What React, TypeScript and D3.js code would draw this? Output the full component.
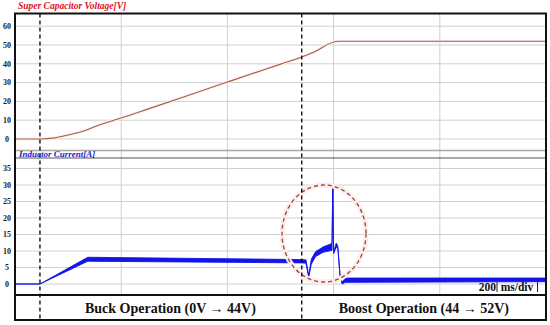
import * as d3 from "d3";

// time base: 200 ms/div, 5 divisions
const timeTicks = [0, 200, 400, 600, 800, 1000];
const voltTicks = [0, 10, 20, 30, 40, 50, 60];
const currTicks = [0, 5, 10, 15, 20, 25, 30, 35];

// super capacitor voltage [V]
const voltageTime = [0, 47, 75, 98, 132, 160, 198, 254, 348, 397, 443, 499, 540, 561, 608, 1000];
const voltageValue = [0, 0, 0.6, 2, 4.5, 7.6, 11, 16.3, 25.3, 30, 34.4, 39.7, 43.6, 46, 52, 52];

// inductor current [A], ripple band upper / lower envelope
const currentTime = [0, 47, 137, 540, 548, 553, 558, 566, 580, 597, 598.5, 600, 605, 608, 612, 616, 622, 1000];
const currentUpper = [0, 0, 8.1, 7.4, 7.3, 2.6, 7.5, 9.8, 11.2, 12.3, 30, 9.8, 12.4, 11.5, 3, 0.5, 1.8, 1.8];
const currentLower = [0, 0, 6.9, 6.4, 6.3, 2.0, 6.0, 8.3, 9.6, 10.2, 30, 9.2, 11.2, 10.8, 2.5, 0, 0.5, 0.7];

const modeBoundaries = [47, 540];
const modeLabels = ["Buck Operation (0V \u2192 44V)", "Boost Operation (44 \u2192 52V)"];

const W = 550;
const H = 325;
const frame = { left: 15, right: 546, top: 13.5, bottom: 320 };
const plotBottom = 295;
const serif = "'Liberation Serif', 'Times New Roman', serif";

export default function App() {
  const x = d3.scaleLinear().domain([0, 1000]).range([frame.left, frame.right]);
  const yV = d3.scaleLinear().domain([0, 60]).range([139, 26.2]);
  const yI = d3.scaleLinear().domain([0, 35]).range([284, 168.5]);

  const voltPts: [number, number][] = voltageTime.map((t, i) => [t, voltageValue[i]]);
  const voltLine = d3.line<[number, number]>()
    .x(d => x(d[0]))
    .y(d => yV(d[1]))
    .curve(d3.curveMonotoneX);

  const idx = currentTime.map((_, i) => i);
  const band = d3.area<number>()
    .x(i => x(currentTime[i]))
    .y0(i => yI(currentLower[i]))
    .y1(i => yI(currentUpper[i]));
  const upperLine = d3.line<number>().x(i => x(currentTime[i])).y(i => yI(currentUpper[i]));
  const lowerLine = d3.line<number>().x(i => x(currentTime[i])).y(i => yI(currentLower[i]));

  const blue = "#1414e8";
  const grid = "#cfcfcf";

  const midBuck = (frame.left + x(modeBoundaries[1])) / 2 + 12;
  const midBoost = (x(modeBoundaries[1]) + frame.right) / 2;

  return (
    <svg width={W} height={H} style={{ position: "absolute", left: 0, top: 0, background: "#fff" }}>
      <rect x={0} y={0} width={W} height={H} fill="#fff" />

      {/* titles */}
      <text x={18} y={9} fill="#e01028" fontFamily={serif} fontSize={9.5} fontWeight="bold" fontStyle="italic">
        Super Capacitor Voltage[V]
      </text>

      {/* vertical grid */}
      {timeTicks.slice(1, -1).map(t => (
        <line key={"vg" + t} x1={x(t)} x2={x(t)} y1={frame.top} y2={plotBottom} stroke={grid} strokeWidth={1} />
      ))}

      {/* voltage grid and labels */}
      {voltTicks.map(v => (
        <g key={"v" + v}>
          <line x1={frame.left} x2={frame.right} y1={yV(v)} y2={yV(v)} stroke={grid} strokeWidth={1} />
          <text x={7} y={yV(v) + 2.8} textAnchor="middle" fontFamily={serif} fontSize={8} fontWeight="bold" fill="#222">
            {v}
          </text>
        </g>
      ))}

      {/* current grid and labels */}
      {currTicks.map(v => (
        <g key={"c" + v}>
          <line x1={frame.left} x2={frame.right} y1={yI(v)} y2={yI(v)} stroke={grid} strokeWidth={1} />
          <text x={7} y={yI(v) + 2.8} textAnchor="middle" fontFamily={serif} fontSize={8} fontWeight="bold" fill="#222">
            {v}
          </text>
        </g>
      ))}

      {/* panel divider */}
      <line x1={frame.left} x2={frame.right} y1={150.5} y2={150.5} stroke="#a8a8a8" strokeWidth={1.6} />
      <line x1={frame.left} x2={frame.right} y1={158} y2={158} stroke="#555" strokeWidth={1.2} />
      <text x={19} y={156.8} fill="#2222c8" fontFamily={serif} fontSize={9} fontWeight="bold" fontStyle="italic">
        Inductor Current[A]
      </text>

      {/* voltage trace */}
      <path d={voltLine(voltPts) ?? ""} fill="none" stroke="#fdeef3" strokeWidth={3} />
      <path d={voltLine(voltPts) ?? ""} fill="none" stroke="#a5613c" strokeWidth={1.1} />

      {/* current trace */}
      <path d={band(idx) ?? ""} fill={blue} stroke="none" />
      <path d={upperLine(idx) ?? ""} fill="none" stroke={blue} strokeWidth={0.9} />
      <path d={lowerLine(idx) ?? ""} fill="none" stroke={blue} strokeWidth={0.9} />

      {/* highlight circle */}
      <ellipse cx={324} cy={233.5} rx={42} ry={48.5} fill="none" stroke="#fdebf0" strokeWidth={5} />
      <ellipse cx={324} cy={233.5} rx={42} ry={48.5} fill="none" stroke="#8a5226" strokeWidth={1.3} strokeDasharray="4 3" />

      {/* time/div label */}
      <text x={496} y={291} textAnchor="end" fontFamily={serif} fontSize={11.5} fontWeight="bold" fill="#111">200</text>
      <line x1={497} x2={497} y1={282} y2={292} stroke="#222" strokeWidth={1} />
      <text x={517} y={291} textAnchor="middle" fontFamily={serif} fontSize={11.5} fontWeight="bold" fill="#111">ms/div</text>
      <line x1={537.5} x2={537.5} y1={282} y2={292} stroke="#222" strokeWidth={1} />

      {/* bottom band */}
      <line x1={frame.left} x2={frame.right} y1={plotBottom} y2={plotBottom} stroke="#111" strokeWidth={2} />
      <text x={midBuck} y={313} textAnchor="middle" fontFamily={serif} fontSize={14} fontWeight="bold" fill="#111">
        {modeLabels[0]}
      </text>
      <text x={midBoost} y={313} textAnchor="middle" fontFamily={serif} fontSize={14} fontWeight="bold" fill="#111">
        {modeLabels[1]}
      </text>

      {/* mode boundaries */}
      {modeBoundaries.map(t => (
        <line key={"mb" + t} x1={x(t)} x2={x(t)} y1={frame.top} y2={frame.bottom} stroke="#111" strokeWidth={1.4} strokeDasharray="4 3" />
      ))}

      {/* outer frame */}
      <rect x={frame.left} y={frame.top} width={frame.right - frame.left} height={frame.bottom - frame.top} fill="none" stroke="#111" strokeWidth={2} />
    </svg>
  );
}
